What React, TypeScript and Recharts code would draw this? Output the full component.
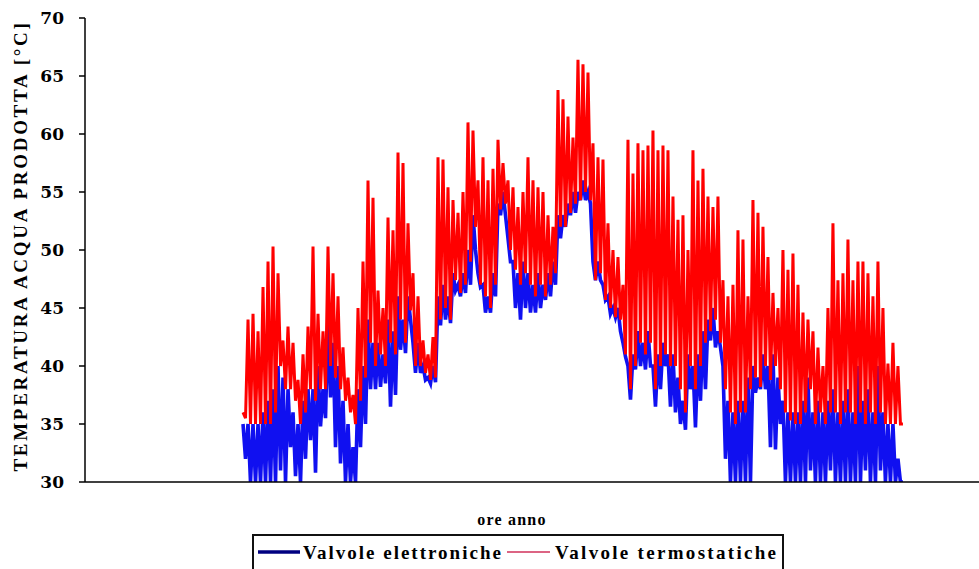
import { Label, Line, LineChart, XAxis, YAxis } from 'recharts';

// samples: every 5 px window of the original gives a daily high and a daily low
const startHour = 1776;
const hourStep = 27.62;

const hourTicks = [2000, 4000, 6000, 8000];
const tempTicks = [30, 35, 40, 45, 50, 55, 60, 65, 70];

const seriesNames = ['Valvole elettroniche', 'Valvole termostatiche'];

const termostaticheHi = [
	36, 44, 44.5, 43, 46.8, 49, 50.3, 48, 42.2, 43.4,
	42, 38.8, 41, 43.4, 50.3, 44.5, 43, 50.3, 48, 46,
	41.6, 39, 37.5, 45, 49, 56, 54.5, 46.5, 45, 52.8,
	51.7, 58.4, 57.5, 52.3, 48, 46, 42.2, 41, 42.5, 58,
	57.8, 55.4, 54.3, 53.2, 55, 61, 60.3, 56, 58, 56,
	57, 59.5, 57.5, 56, 55.4, 53.7, 55, 58, 56, 55.4,
	55, 53, 52, 63.8, 63, 61.5, 59.7, 66.4, 66, 65.3,
	59.2, 58, 57.8, 52.3, 50, 49.4, 47, 59.5, 56.6, 59.2,
	58.6, 59, 60.3, 58.6, 59, 58.6, 54.6, 52.6, 53, 50,
	58.6, 56, 57, 54.6, 53.7, 54.6, 47.4, 46, 47, 51.7,
	50.9, 46, 54.3, 53.2, 52, 49.4, 46.3, 45, 50, 48.3,
	49.7, 47, 44.6, 44, 43, 41.6, 40, 45, 52.3, 47.4,
	48, 50.9, 47.4, 49, 49, 48, 46, 49, 45, 40.2,
	42, 40,
];

const termostaticheLo = [
	35.5, 35, 35, 35, 35, 35, 36, 40, 38, 38,
	37, 35, 36, 38, 37, 38, 38, 40, 39, 38,
	37, 36, 35, 37, 39, 42, 40, 41, 40, 42,
	41, 44, 42, 44.8, 40, 40, 39.4, 38.8, 39, 44,
	45, 44, 47.4, 46.3, 47, 49, 52, 47, 46, 45,
	47, 53.5, 54, 50, 48.3, 47, 48, 47, 46, 47,
	46, 47, 48, 52, 52, 53.2, 54, 54.3, 55, 54.3,
	47.4, 48, 45.7, 45, 44.2, 44, 41, 38, 40, 42,
	41, 42, 38, 40, 41, 40, 40, 38, 36, 40,
	38, 40, 42, 43, 44, 42, 38, 36, 35, 36,
	36, 38, 39, 38.2, 40, 38.8, 40, 38, 36, 35.3,
	35, 35, 36, 38, 35, 36, 35, 36, 36, 35,
	36, 36, 35, 36, 35, 36, 35, 36, 35, 35,
	35, 35,
];

const elettronicheHi = [
	35, 35, 35, 35, 36, 37, 38, 40, 39, 38,
	36, 35, 37, 38, 38, 40, 38, 44, 42, 40,
	37, 35, 33, 38, 40, 44, 42, 42, 41, 44,
	43, 46, 44, 46, 42, 42, 40, 39, 40, 46,
	47, 46, 48, 47, 48, 50, 53, 48, 47, 46,
	48, 54, 55, 51, 49, 48, 49, 48, 47, 48,
	47, 48, 49, 53, 53, 54, 55, 55, 56, 55,
	49, 49, 47, 46, 45, 45, 42, 40, 41, 43,
	42, 43, 40, 41, 42, 41, 41, 39, 37, 41,
	40, 41, 43, 44, 45, 43, 40, 37, 36, 37,
	37, 39, 40, 39, 41, 40, 41, 39, 37, 36,
	36, 36, 37, 39, 36, 37, 36, 37, 38, 36,
	37, 38, 36, 40, 37, 38, 36, 40, 36, 35,
	35, 32,
];

const elettronicheLo = [
	32, 30, 30, 30, 30, 30, 30, 31, 30, 33,
	30.5, 30, 32, 33.6, 30.8, 34.8, 35.5, 37.3, 33, 31.6,
	30, 30, 30, 33, 35, 38, 38, 38.2, 38.5, 36.5,
	37.5, 41.4, 41.1, 44, 39.4, 39.4, 38.8, 38.5, 38.6, 43.5,
	44, 43.7, 46.5, 46, 46.3, 47, 50, 46.8, 44.6, 44.6,
	46, 53, 53, 49, 45, 44, 45, 44.6, 44.6, 45,
	45.7, 46, 47, 51, 52, 53, 53.2, 54.3, 54.3, 54,
	47.4, 47.4, 45.7, 44.5, 44.2, 43, 40.8, 37.1, 39.7, 40,
	39.7, 40, 36.5, 38, 40, 36.5, 36, 35, 34.5, 38,
	34.7, 37, 38, 42.2, 41.6, 41.6, 32, 30, 30, 30,
	30, 30, 37.7, 38, 38, 33, 32.8, 35, 30, 30,
	30, 30, 30, 31, 30, 30, 30, 31, 30, 30,
	30, 30, 30, 30, 31, 30, 30, 31, 30, 30,
	30, 30,
];

const lastTermostatiche = 35;
const lastElettroniche = 30;

const data: { ora: number; elettroniche: number; termostatiche: number }[] = [];
termostaticheHi.forEach((hi, i) => {
	data.push({ ora: startHour + 2 * i * hourStep, elettroniche: elettronicheHi[i], termostatiche: hi });
	data.push({
		ora: startHour + (2 * i + 1) * hourStep,
		elettroniche: elettronicheLo[i],
		termostatiche: termostaticheLo[i],
	});
});
data.push({
	ora: startHour + data.length * hourStep,
	elettroniche: lastElettroniche,
	termostatiche: lastTermostatiche,
});

const SERIF = '"Liberation Serif", "Times New Roman", serif';
const TICK_FONT = '"DejaVu Serif", serif';

function LegendBox() {
	return (
		<svg width={532} height={36} style={{ position: 'absolute', left: 252, top: 534 }}>
			<rect x={1} y={1} width={530} height={40} fill='#fff' stroke='#111' strokeWidth={2} />
			<line x1={6} y1={18} x2={48} y2={18} stroke='#000080' strokeWidth={3.5} />
			<text x={51} y={25} fontFamily={SERIF} fontWeight='bold' fontSize={19} letterSpacing={2} fill='#000'>
				{seriesNames[0]}
			</text>
			<line x1={255} y1={18} x2={298} y2={18} stroke='#d0305a' strokeWidth={1.5} />
			<text x={303} y={25} fontFamily={SERIF} fontWeight='bold' fontSize={19} letterSpacing={2.3} fill='#000'>
				{seriesNames[1]}
			</text>
		</svg>
	);
}

export default function App() {
	return (
		<div style={{ position: 'absolute', left: 0, top: 0, width: 979, height: 569, background: '#fff', overflow: 'hidden' }}>
			<LineChart width={979} height={569} data={data} margin={{ top: 18, right: 0, bottom: 57, left: 0 }}>
				<XAxis
					dataKey='ora'
					type='number'
					domain={[30, 9908]}
					ticks={hourTicks}
					tick={false}
					tickSize={6}
					height={30}
					stroke='#000'
					strokeWidth={1.5}
					allowDataOverflow
				>
					<Label
						content={() => (
							<text
								x={512}
								y={525}
								textAnchor='middle'
								fontFamily={SERIF}
								fontWeight='bold'
								fontSize={16}
								letterSpacing={1.2}
								fill='#000'
							>
								ore anno
							</text>
						)}
					/>
				</XAxis>
				<YAxis
					type='number'
					domain={[30, 70]}
					ticks={tempTicks}
					width={85}
					tickSize={6}
					tickMargin={15}
					stroke='#000'
					strokeWidth={1.5}
					allowDataOverflow
					tick={{ fill: '#000', fontFamily: TICK_FONT, fontWeight: 'bold', fontSize: 17 }}
				>
					<Label
						content={() => (
							<text
								x={27}
								y={246}
								transform='rotate(-90 27 246)'
								textAnchor='middle'
								fontFamily={SERIF}
								fontWeight='bold'
								fontSize={19}
								letterSpacing={2.7}
								fill='#000'
							>
								TEMPERATURA ACQUA PRODOTTA [°C]
							</text>
						)}
					/>
				</YAxis>
				<Line
					dataKey='elettroniche'
					name={seriesNames[0]}
					type='linear'
					dot={false}
					stroke='#1010f0'
					strokeWidth={3.6}
					isAnimationActive={false}
				/>
				<Line
					dataKey='termostatiche'
					name={seriesNames[1]}
					type='linear'
					dot={false}
					stroke='#ff0000'
					strokeWidth={3}
					isAnimationActive={false}
				/>
			</LineChart>
			<LegendBox />
		</div>
	);
}
